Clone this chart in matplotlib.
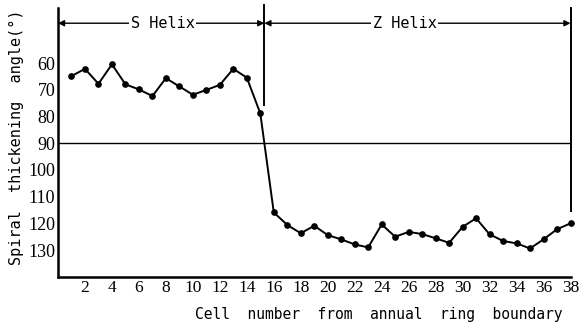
import matplotlib
matplotlib.use("Agg")
import matplotlib.pyplot as plt

# cell numbers and spiral thickening angle (degrees)
cells = list(range(1, 39))
angles = [64.8, 62.1, 67.7, 60.4, 67.9, 69.8, 72.3, 65.6, 68.7, 71.8,
          70.0, 68.1, 62.1, 65.4, 78.8,
          115.9, 120.6, 123.7, 120.9, 124.4, 126.0, 127.9, 129.0, 120.4, 125.0,
          123.2, 124.0, 125.6, 127.3, 121.3, 118.1, 124.1, 126.6, 127.5, 129.4,
          126.0, 122.2, 120.0]

xticks = list(range(2, 39, 2))
yticks = [60, 70, 80, 90, 100, 110, 120, 130]

boundary = 15.3      # S / Z helix change
x_min, x_max = 0, 38
y_bottom, y_top = 140.1, 39.3
arrow_y = 45
ref_angle = 90

mono = "DejaVu Sans Mono"
serif = "Liberation Serif"

fig = plt.figure(figsize=(5.84, 3.23), dpi=100)
ax = fig.add_axes([0.0993, 0.1424, 0.8776, 0.8328])

ax.plot(cells, angles, color="black", linewidth=1.4, marker="o",
        markersize=3.8, clip_on=False, zorder=3)

# horizontal 90 degree line
ax.axhline(ref_angle, color="black", linewidth=1.0)

# boundary line and right line
ax.plot([boundary, boundary], [y_top - 1.2, 75.6], color="black",
        linewidth=1.4, clip_on=False)
ax.plot([x_max, x_max], [y_top, 115.4], color="black", linewidth=1.4,
        clip_on=False)

# helix arrows
arrow_kw = dict(arrowstyle="<|-|>", color="black", lw=1.0,
                mutation_scale=9, shrinkA=0, shrinkB=0)
ax.annotate("", xy=(x_min, arrow_y), xytext=(boundary, arrow_y),
            arrowprops=arrow_kw, annotation_clip=False)
ax.annotate("", xy=(boundary, arrow_y), xytext=(x_max, arrow_y),
            arrowprops=arrow_kw, annotation_clip=False)
ax.text((x_min + boundary) / 2 + 0.1, arrow_y, "S Helix", family=mono,
        fontsize=11, ha="center", va="center",
        bbox=dict(facecolor="white", edgecolor="none", pad=1))
ax.text(25.7, arrow_y, "Z Helix", family=mono, fontsize=11,
        ha="center", va="center",
        bbox=dict(facecolor="white", edgecolor="none", pad=1))

ax.set_xlim(x_min, x_max)
ax.set_ylim(y_bottom, y_top)
ax.set_xticks(xticks)
ax.set_yticks(yticks)
ax.tick_params(length=0, pad=2)
for lab in ax.get_xticklabels():
    lab.set_family(serif)
    lab.set_fontsize(12.5)
for lab in ax.get_yticklabels():
    lab.set_family(serif)
    lab.set_fontsize(13)

for side in ["top", "right"]:
    ax.spines[side].set_visible(False)
for side in ["left", "bottom"]:
    ax.spines[side].set_linewidth(1.8)

ax.set_xlabel("Cell  number  from  annual  ring  boundary", family=mono,
              fontsize=10.5)
ax.xaxis.set_label_coords(0.625, -0.112)
ax.set_ylabel("Spiral  thickening  angle(°)", family=mono, fontsize=11)
ax.yaxis.set_label_coords(-0.066, 0.52)

fig.savefig("out.png", dpi=100)
